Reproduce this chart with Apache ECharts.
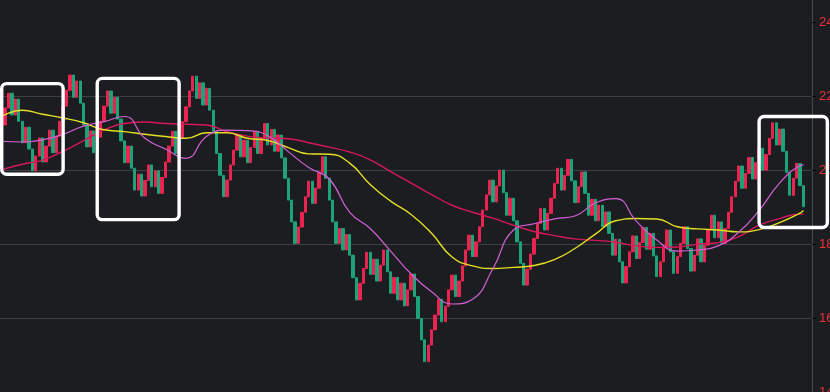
<!DOCTYPE html>
<html><head><meta charset="utf-8">
<script src="https://cdn.jsdelivr.net/npm/echarts@6/dist/echarts.min.js"></script>
<style>html,body{margin:0;padding:0;background:#1c1d21;overflow:hidden;}#c{width:830px;height:392px;}</style>
</head><body><div id="c"></div>
<script>
const opens = [
20.81, 21.22, 21.68, 22.08, 21.49, 21.92, 21.32, 20.74, 21.16, 20.57,
19.98, 20.38, 20.87, 20.22, 20.65, 21.08, 20.47, 20.92, 21.32, 21.73,
22.16, 22.57, 21.97, 22.41, 21.81, 21.22, 20.63, 21.06, 20.47, 20.89,
21.32, 21.73, 22.14, 21.54, 21.97, 21.38, 20.79, 20.20, 20.65, 20.05,
19.46, 19.89, 19.30, 19.72, 20.14, 19.55, 19.98, 19.37, 19.80, 20.22,
20.65, 21.05, 20.45, 20.86, 21.31, 21.71, 22.14, 22.54, 21.94, 22.36,
21.76, 22.21, 21.62, 21.04, 20.45, 19.86, 19.28, 19.73, 20.14, 20.54,
20.95, 20.36, 20.81, 20.20, 20.61, 21.04, 20.45, 20.86, 21.26, 20.68,
21.10, 20.51, 20.95, 20.33, 19.78, 19.19, 18.60, 18.02, 18.46, 18.86,
19.28, 19.70, 19.10, 19.51, 19.94, 20.36, 19.78, 19.19, 18.60, 18.02,
18.42, 17.84, 18.26, 17.70, 17.09, 16.49, 16.94, 17.34, 17.78, 17.18,
17.59, 17.00, 17.43, 17.84, 17.25, 16.67, 17.10, 16.49, 16.94, 16.33,
16.76, 17.19, 16.58, 15.99, 15.41, 14.82, 15.27, 15.68, 16.08, 16.51,
15.90, 16.32, 16.76, 17.16, 16.58, 17.00, 17.41, 17.84, 18.24, 17.66,
18.06, 18.47, 18.92, 19.33, 19.73, 19.14, 19.57, 20.00, 19.39, 18.78,
19.24, 18.63, 18.06, 17.48, 16.89, 17.32, 17.73, 18.15, 18.56, 18.96,
18.38, 18.83, 19.24, 19.64, 20.05, 19.46, 19.86, 20.29, 19.71, 19.12,
19.55, 19.95, 19.37, 18.78, 19.21, 18.63, 19.05, 18.47, 18.87, 18.29,
17.70, 18.13, 17.52, 16.95, 17.39, 17.79, 18.22, 17.61, 18.04, 18.45,
17.86, 18.29, 17.68, 17.12, 17.52, 17.93, 18.38, 17.79, 17.21, 17.66,
18.02, 18.47, 17.88, 17.27, 17.70, 18.14, 17.52, 17.97, 18.38, 18.78,
18.17, 18.60, 18.02, 18.42, 18.86, 19.28, 19.70, 20.11, 19.51, 19.91,
20.34, 19.76, 20.20, 20.59, 20.00, 20.42, 20.86, 21.28, 20.68, 21.11,
20.51, 19.94, 19.32, 19.78, 20.18, 19.58
];
const closes = [
21.22, 21.68, 22.08, 21.49, 21.92, 21.32, 20.74, 21.16, 20.57, 19.98,
20.38, 20.87, 20.22, 20.65, 21.08, 20.47, 20.92, 21.32, 21.73, 22.16,
22.57, 21.97, 22.41, 21.81, 21.22, 20.63, 21.06, 20.47, 20.89, 21.32,
21.73, 22.14, 21.54, 21.97, 21.38, 20.79, 20.20, 20.65, 20.05, 19.46,
19.89, 19.30, 19.72, 20.14, 19.55, 19.98, 19.37, 19.80, 20.22, 20.65,
21.05, 20.45, 20.86, 21.31, 21.71, 22.14, 22.54, 21.94, 22.36, 21.76,
22.21, 21.62, 21.04, 20.45, 19.86, 19.28, 19.73, 20.14, 20.54, 20.95,
20.36, 20.81, 20.20, 20.61, 21.04, 20.45, 20.86, 21.26, 20.68, 21.10,
20.51, 20.95, 20.33, 19.78, 19.19, 18.60, 18.02, 18.46, 18.86, 19.28,
19.70, 19.10, 19.51, 19.94, 20.36, 19.78, 19.19, 18.60, 18.02, 18.42,
17.84, 18.26, 17.70, 17.09, 16.49, 16.94, 17.34, 17.78, 17.18, 17.59,
17.00, 17.43, 17.84, 17.25, 16.67, 17.10, 16.49, 16.94, 16.33, 16.76,
17.19, 16.58, 15.99, 15.41, 14.82, 15.27, 15.68, 16.08, 16.51, 15.90,
16.32, 16.76, 17.16, 16.58, 17.00, 17.41, 17.84, 18.24, 17.66, 18.06,
18.47, 18.92, 19.33, 19.73, 19.14, 19.57, 20.00, 19.39, 18.78, 19.24,
18.63, 18.06, 17.48, 16.89, 17.32, 17.73, 18.15, 18.56, 18.96, 18.38,
18.83, 19.24, 19.64, 20.05, 19.46, 19.86, 20.29, 19.71, 19.12, 19.55,
19.95, 19.37, 18.78, 19.21, 18.63, 19.05, 18.47, 18.87, 18.29, 17.70,
18.13, 17.52, 16.95, 17.39, 17.79, 18.22, 17.61, 18.04, 18.45, 17.86,
18.29, 17.68, 17.12, 17.52, 17.93, 18.38, 17.79, 17.21, 17.66, 18.02,
18.47, 17.88, 17.27, 17.70, 18.14, 17.52, 17.97, 18.38, 18.78, 18.17,
18.60, 18.02, 18.42, 18.86, 19.28, 19.70, 20.11, 19.51, 19.91, 20.34,
19.76, 20.20, 20.59, 20.00, 20.42, 20.86, 21.28, 20.68, 21.11, 20.51,
19.94, 19.32, 19.78, 20.18, 19.58, 19.01
];
const categoryCount = 238;
const categories = Array.from({length: categoryCount}, (_, i) => 'D' + (i + 1));
const maIndex = [0,6,12,18,24,30,36,42,48,54,60,66,72,78,84,90,96,102,108,114,120,126,132,138,144,150,156,162,168,174,180,186,192,198,204,210,216,222,228,234,235];
const maFast = [20.78,20.76,20.82,20.97,21.19,21.31,21.45,20.86,20.57,20.32,20.91,21.08,21.07,20.93,20.50,20.07,19.76,18.86,18.42,17.81,17.19,16.71,16.38,16.51,17.34,18.38,18.55,18.68,18.76,19.11,19.23,18.62,18.11,17.81,17.84,17.95,18.32,18.91,19.65,20.12,20.14];
const maMid = [21.45,21.62,21.51,21.41,21.28,21.09,21.04,20.97,20.91,20.86,21.01,21.01,20.86,20.80,20.61,20.44,20.43,20.19,19.61,19.16,18.80,18.29,17.65,17.41,17.34,17.37,17.42,17.58,17.88,18.27,18.63,18.69,18.68,18.47,18.41,18.38,18.33,18.39,18.58,18.84,18.91];
const maSlow = [20.01,20.16,20.27,20.51,20.80,21.09,21.26,21.30,21.26,21.24,21.22,21.04,20.92,20.87,20.85,20.74,20.62,20.49,20.28,19.96,19.65,19.34,19.05,18.86,18.70,18.51,18.34,18.23,18.14,18.10,18.05,17.95,17.91,17.92,18.00,18.04,18.20,18.51,18.69,18.81,18.81];
const yTicks = [14, 16, 18, 20, 22, 24];
// highlight boxes: [fromIndex, toIndex, topValue, bottomValue]
const boxes = [[0, 18, 22.34, 19.89], [28, 51.6, 22.48, 18.66], [221.5, 241.6, 21.45, 18.45]];

const candles = opens.map((o, i) => [o, closes[i], Math.min(o, closes[i]), Math.max(o, closes[i])]);
const toLine = arr => maIndex.map((idx, k) => [idx, arr[k]]);

const chart = echarts.init(document.getElementById('c'), null, {renderer: 'canvas'});
chart.setOption({
  backgroundColor: '#1c1d21',
  animation: false,
  grid: {left: 0, right: 18, top: 0, bottom: 0, containLabel: false, outerBoundsMode: 'none'},
  xAxis: {
    type: 'category', data: categories, boundaryGap: true,
    axisLine: {show: false}, axisTick: {show: false}, axisLabel: {show: false}, splitLine: {show: false}
  },
  yAxis: {
    type: 'value', position: 'right', min: 14, max: 24.6, interval: 2,
    axisLine: {show: true, lineStyle: {color: '#4a4b4f', width: 1}},
    axisTick: {show: true, length: 4, customValues: yTicks, lineStyle: {color: '#0c0c0c', width: 1}},
    axisLabel: {show: true, customValues: yTicks, margin: 7, color: '#ec3237', fontSize: 13,
      formatter: v => (yTicks.indexOf(v) >= 0 ? String(v) : '')},
    splitLine: {show: true, showMaxLine: false, showMinLine: false, lineStyle: {color: '#3e3f43', width: 1}}
  },
  series: [
    {
      type: 'candlestick', data: candles, barWidth: 2.8, z: 2,
      itemStyle: {color: '#ea2451', color0: '#1ea278', borderColor: '#ea2451', borderColor0: '#1ea278', borderWidth: 1}
    },
    {type: 'line', data: toLine(maSlow), smooth: 0.5, symbol: 'none', z: 3, lineStyle: {color: '#d6175a', width: 1.4}},
    {type: 'line', data: toLine(maMid), smooth: 0.5, symbol: 'none', z: 3, lineStyle: {color: '#e3df24', width: 1.4}},
    {type: 'line', data: toLine(maFast), smooth: 0.5, symbol: 'none', z: 4, lineStyle: {color: '#d460d6', width: 1.2}}
  ]
});

function drawBoxes() {
  const g = boxes.map(b => {
    const p1 = chart.convertToPixel({gridIndex: 0}, [b[0], b[2]]);
    const p2 = chart.convertToPixel({gridIndex: 0}, [b[1], b[3]]);
    return {
      type: 'rect', z: 100,
      shape: {x: p1[0], y: p1[1], width: p2[0] - p1[0], height: p2[1] - p1[1], r: 5},
      style: {fill: 'none', stroke: '#ffffff', lineWidth: 3.4}
    };
  });
  chart.setOption({graphic: g});
}
drawBoxes();
</script>
</body></html>
